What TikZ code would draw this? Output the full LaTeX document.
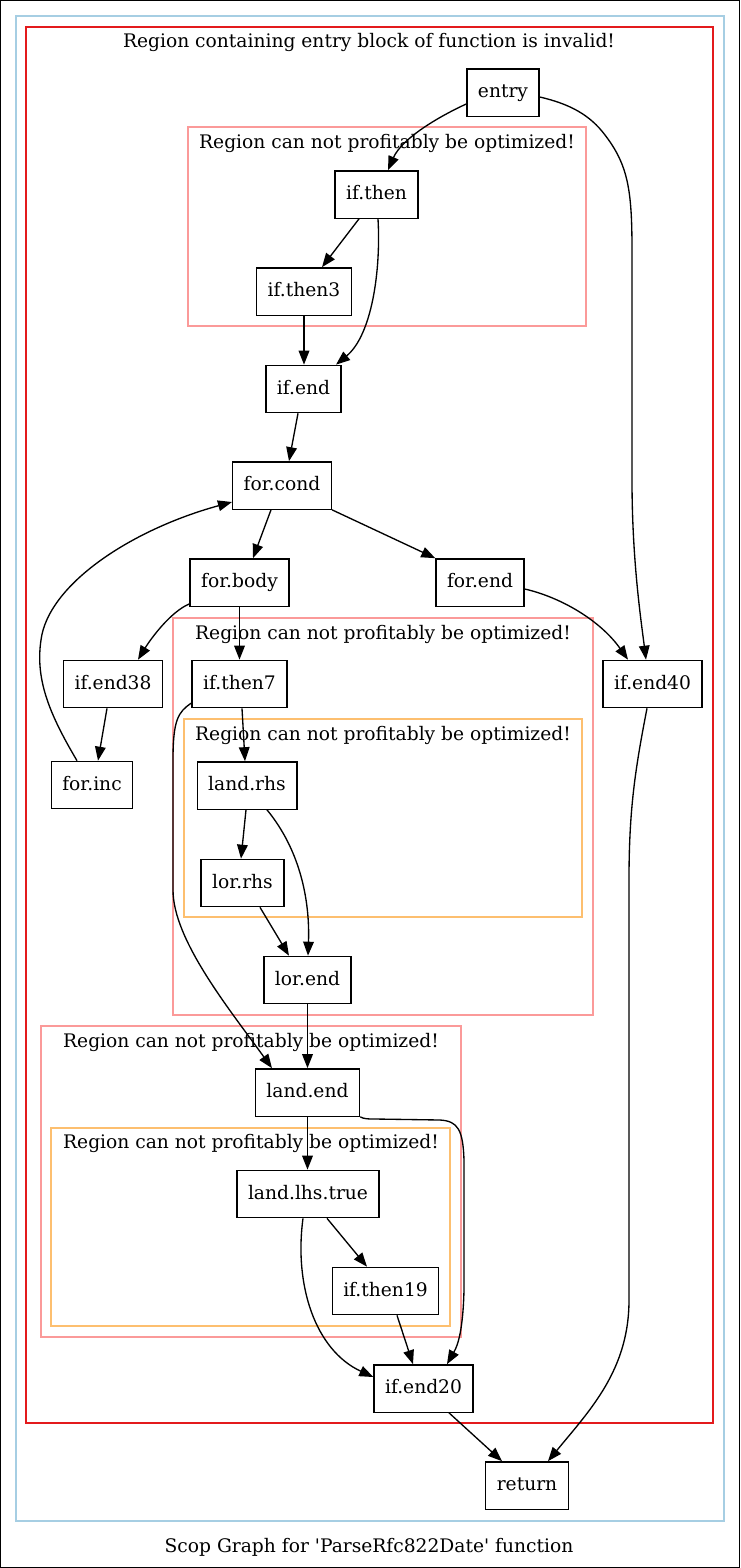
\documentclass[tikz,border=0pt]{standalone}
\usepackage{fontspec}
\setmainfont{DejaVu Serif}
\usepackage{tikz}
\usetikzlibrary{arrows.meta,calc}

\definecolor{regblue}{HTML}{A6CEE3}
\definecolor{regred}{HTML}{E31A1C}
\definecolor{regpink}{HTML}{FB9A99}
\definecolor{regorange}{HTML}{FDBF6F}

\begin{document}
\begin{tikzpicture}[x=0.75pt,y=-0.75pt,line width=1pt,
                    >={Triangle[length=10.5pt,width=8pt]},
                    block/.style={rectangle,draw,font=\fontsize{14pt}{16pt}\selectfont,
                      minimum height=35.5pt,inner xsep=8.3pt,text height=10pt,text depth=2.2pt},
                    region/.style={draw,line width=1pt},
                    region label/.style={anchor=base,inner sep=0pt,font=\fontsize{14pt}{16pt}\selectfont}]

  \useasboundingbox (0,0) rectangle (740,1568);
  \draw[line width=0.75pt] (0.5,0.5) rectangle (739.5,1567.5);

  % regions
  \draw[region,regblue] (16,16) rectangle (724,1521);
  \draw[region,regred] (26,27) rectangle (713,1423);
  \node[region label] (redlabel) at (369,47.5) {Region containing entry block of function is invalid!};
  \draw[region,regpink] (188,127) rectangle (586,326);
  \node[region label] (pinkalabel) at (387,148) {Region can not profitably be optimized!};
  \draw[region,regpink] (173,618) rectangle (593,1015);
  \node[region label] (pinkblabel) at (383,639) {Region can not profitably be optimized!};
  \draw[region,regorange] (184,719) rectangle (582,917);
  \node[region label] (orangealabel) at (383,740) {Region can not profitably be optimized!};
  \draw[region,regpink] (41,1026) rectangle (461,1337);
  \node[region label] (pinkclabel) at (251,1047) {Region can not profitably be optimized!};
  \draw[region,regorange] (51,1128) rectangle (450,1326);
  \node[region label] (orangeblabel) at (251,1148) {Region can not profitably be optimized!};
  \node[region label] (caption) at (369,1552) {Scop Graph for \textquotesingle ParseRfc822Date\textquotesingle\ function};

  % blocks
  \node[block] (entry) at (503,92.5) {entry};
  \node[block] (ifthen) at (376.5,194.5) {if.then};
  \node[block] (ifthen3) at (304,291.5) {if.then3};
  \node[block] (ifend) at (303.5,389) {if.end};
  \node[block] (forcond) at (282,485.5) {for.cond};
  \node[block] (forbody) at (239.5,582.5) {for.body};
  \node[block] (forend) at (480,582.5) {for.end};
  \node[block] (ifend38) at (113,684) {if.end38};
  \node[block] (forinc) at (92,785) {for.inc};
  \node[block] (ifend40) at (652.5,684) {if.end40};
  \node[block] (ifthen7) at (239.5,684) {if.then7};
  \node[block] (landrhs) at (247,785.5) {land.rhs};
  \node[block] (lorrhs) at (242.5,883) {lor.rhs};
  \node[block] (lorend) at (307.5,980) {lor.end};
  \node[block] (landend) at (307.5,1092.5) {land.end};
  \node[block] (landlhstrue) at (308,1194) {land.lhs.true};
  \node[block] (ifthen19) at (385.5,1291) {if.then19};
  \node[block] (ifend20) at (423.5,1388.5) {if.end20};
  \node[block] (return) at (527,1485.5) {return};

  % straight edges
  \path[->]
    ($(ifthen.south)+(-17.5,0)$) edge ($(ifthen3.north)+(18,0)$)
    (ifthen3.south) edge ($(ifend.north)+(0.5,0)$)
    ($(ifend.south)+(-5.5,0)$) edge ($(forcond.north)+(7,0)$)
    ($(forcond.south)+(-11,0)$) edge ($(forbody.north)+(13.5,0)$)
    (forcond.south east) edge (forend.north west)
    (forbody.south) edge (ifthen7.north)
    ($(ifend38.south)+(-6,0)$) edge ($(forinc.north)+(6,0)$)
    ($(ifthen7.south)+(2.5,0)$) edge ($(landrhs.north)+(-2,0)$)
    ($(landrhs.south)+(-1,0)$) edge ($(lorrhs.north)+(-1.5,0)$)
    ($(lorrhs.south)+(17.5,0)$) edge ($(lorend.north)+(-18.5,0)$)
    (lorend.south) edge (landend.north)
    (landend.south) edge ($(landlhstrue.north)+(-0.5,0)$)
    ($(landlhstrue.south)+(19,0)$) edge ($(ifthen19.north)+(-18.5,0)$)
    ($(ifthen19.south)+(11.5,0)$) edge ($(ifend20.north)+(-10.5,0)$)
    ($(ifend20.south)+(25.5,0)$) edge ($(return.north)+(-25,0)$);

  % curved edges
  \draw[->] ($(entry.west)+(0,11.5)$) .. controls (440,116) and (402,138) .. ($(ifthen.north)+(11.5,0)$);
  \draw[->] ($(entry.east)+(0,4.5)$) .. controls (570,104) and (590,115) .. (605,135)
    .. controls (628,165) and (632,190) .. (632,250) -- (632,480)
    .. controls (632,560) and (641,620) .. ($(ifend40.north)+(-6.5,0)$);
  \draw[->] ($(ifthen.south)+(1.5,0)$) .. controls (381,270) and (372,335) .. ($(ifend.north)+(32.5,0)$);
  \draw[->] ($(forbody.south west)+(0,-3)$) .. controls (170,612) and (150,640) .. ($(ifend38.north)+(25,0)$);
  \draw[->] ($(forend.east)+(0,6.5)$) .. controls (560,597) and (600,620) .. ($(ifend40.north)+(-24.5,0)$);
  \draw[->] ($(forinc.north)+(-15,0)$) .. controls (50,715) and (35,680) .. (41,640)
    .. controls (48,585) and (130,530) .. ($(forcond.west)+(0,16.5)$);
  \draw[->] ($(ifthen7.west)+(0,19)$) .. controls (178,712) and (173,720) .. (173,760) -- (173,890)
    .. controls (173,940) and (230,1010) .. ($(landend.north)+(-35.5,0)$);
  \draw[->] ($(landrhs.south)+(20,0)$) .. controls (300,850) and (310,900) .. ($(lorend.north)+(0.5,0)$);
  \draw[->] (landend.south east) .. controls (364,1119) and (368,1119) .. (375,1119) -- (440,1120)
    .. controls (458,1121) and (463,1130) .. (464,1160) -- (464,1290)
    .. controls (463,1330) and (458,1345) .. ($(ifend20.north)+(23.5,0)$);
  \draw[->] ($(landlhstrue.south)+(-5,0)$) .. controls (294,1285) and (315,1350) .. ($(ifend20.west)+(0,-11.5)$);
  \draw[->] ($(ifend40.south)+(-5.5,0)$) .. controls (635,770) and (629,810) .. (629,880) -- (629,1300)
    .. controls (629,1370) and (590,1410) .. ($(return.north)+(21,0)$);
\end{tikzpicture}
\end{document}
